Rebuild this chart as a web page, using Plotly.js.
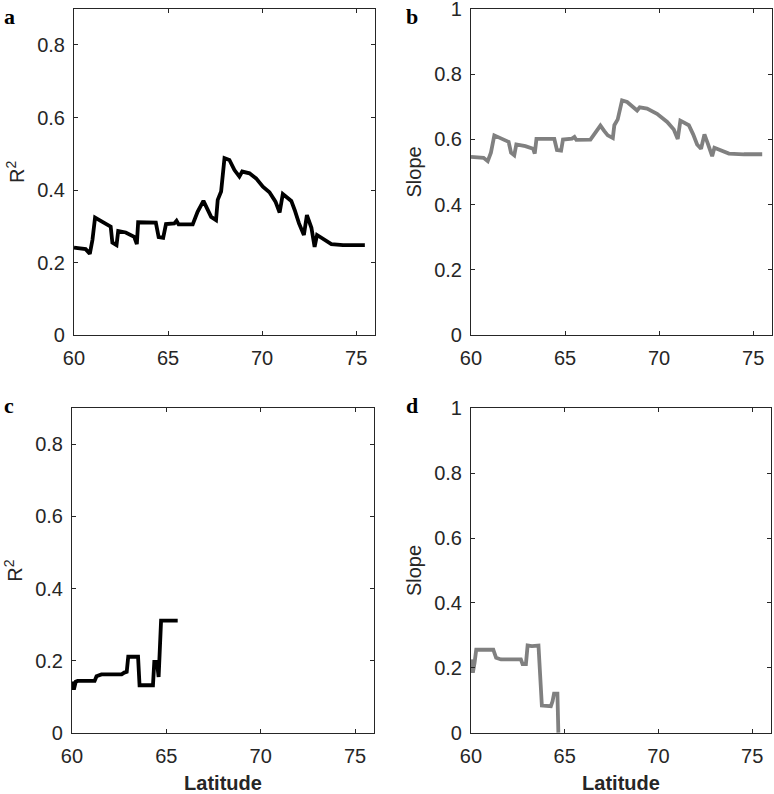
<!DOCTYPE html>
<html>
<head>
<meta charset="utf-8">
<script src="https://cdn.plot.ly/plotly-3.0.1.min.js"></script>
<style>
  body { margin: 0; background: #fff; }
  #chart { width: 774px; height: 794px; }
</style>
</head>
<body>
<div id="chart"></div>
<script>
// panel a: R2 vs latitude
var latA = [60, 60.62, 60.84, 60.98, 61.12, 61.42, 61.95, 62.04, 62.26, 62.35, 62.75, 63.2, 63.34, 63.41,
  64.35, 64.5, 64.74, 64.89, 65.33, 65.45, 65.56, 66.31, 66.57, 66.88, 67.11, 67.29, 67.55, 67.64, 67.82,
  68.0, 68.26, 68.53, 68.79, 68.94, 69.33, 69.68, 70.04, 70.39, 70.71, 70.93, 71.1, 71.55, 71.73, 71.96,
  72.22, 72.38, 72.62, 72.79, 72.92, 73.24, 73.68, 74.3, 75.46];
var r2A = [0.241, 0.237, 0.224, 0.262, 0.324, 0.314, 0.299, 0.255, 0.248, 0.287, 0.283, 0.271, 0.251, 0.311,
  0.310, 0.270, 0.268, 0.306, 0.308, 0.315, 0.305, 0.305, 0.340, 0.370, 0.345, 0.326, 0.317, 0.373, 0.396,
  0.488, 0.483, 0.455, 0.437, 0.451, 0.446, 0.432, 0.409, 0.394, 0.368, 0.338, 0.389, 0.370, 0.345, 0.308,
  0.276, 0.331, 0.296, 0.243, 0.276, 0.265, 0.251, 0.248, 0.248];

// panel b: slope vs latitude
var latB = [60, 60.67, 60.89, 61.06, 61.24, 61.56, 62.0, 62.13, 62.3, 62.41, 62.89, 63.3, 63.39, 63.48,
  64.43, 64.57, 64.79, 64.89, 65.37, 65.5, 65.6, 66.35, 66.61, 66.88, 67.09, 67.27, 67.54, 67.62, 67.8,
  68.03, 68.3, 68.62, 68.83, 68.97, 69.36, 69.89, 70.43, 70.78, 70.99, 71.13, 71.58, 71.81, 72.02, 72.23,
  72.41, 72.59, 72.82, 72.94, 73.26, 73.71, 74.5, 75.48];
var slopeB = [0.546, 0.543, 0.533, 0.559, 0.612, 0.604, 0.592, 0.559, 0.551, 0.584, 0.579, 0.571, 0.556, 0.601,
  0.601, 0.567, 0.565, 0.599, 0.602, 0.607, 0.598, 0.599, 0.620, 0.642, 0.625, 0.612, 0.604, 0.643, 0.661,
  0.719, 0.714, 0.698, 0.688, 0.698, 0.694, 0.678, 0.653, 0.630, 0.601, 0.657, 0.643, 0.615, 0.584, 0.571,
  0.615, 0.587, 0.548, 0.574, 0.566, 0.556, 0.554, 0.554];

// panel c: R2 vs latitude
var latC = [60.0, 60.1, 60.2, 60.3, 61.2, 61.3, 61.56, 62.63, 62.77, 62.9, 62.98, 63.5, 63.58, 64.29, 64.36,
  64.5, 64.59, 64.72, 65.6];
var r2C = [0.142, 0.120, 0.142, 0.144, 0.144, 0.157, 0.162, 0.162, 0.167, 0.169, 0.211, 0.211, 0.132, 0.132, 0.197,
  0.197, 0.155, 0.311, 0.311];

// panel d: slope vs latitude
var latD = [60.0, 60.1, 60.19, 60.28, 61.19, 61.34, 61.6, 62.66, 62.75, 62.93, 63.02, 63.25, 63.6, 63.71, 63.78,
  64.26, 64.35, 64.43, 64.61, 64.66];
var slopeD = [0.226, 0.185, 0.215, 0.256, 0.256, 0.231, 0.226, 0.226, 0.212, 0.212, 0.269, 0.267, 0.269, 0.174, 0.084,
  0.082, 0.097, 0.121, 0.121, 0.0];

var xTicks = [60, 65, 70, 75];
var r2Ticks = [0, 0.2, 0.4, 0.6, 0.8];
var slopeTicks = [0, 0.2, 0.4, 0.6, 0.8, 1];

var axisColor = "#262626";
var tickFont = { family: "Liberation Sans, Arial, sans-serif", size: 20, color: axisColor };

function xax(domain, anchor, withTitle) {
  var ax = {
    domain: domain,
    anchor: anchor,
    range: [60, 76],
    tickvals: xTicks,
    ticktext: xTicks.map(String),
    showline: true,
    mirror: "ticks",
    linecolor: axisColor,
    linewidth: 1,
    ticks: "inside",
    ticklen: 4,
    tickcolor: axisColor,
    showgrid: false,
    zeroline: false,
    tickfont: tickFont,
    ticklabelstandoff: 5,
    ticklabeloverflow: "allow",
  };
  if (withTitle) {
    ax.title = {
      text: "<b>Latitude</b>",
      font: { family: "Liberation Sans, Arial, sans-serif", size: 20, color: axisColor },
      standoff: 10,
    };
  }
  return ax;
}

function yax(domain, anchor, range, ticks, title) {
  return {
    domain: domain,
    anchor: anchor,
    range: range,
    tickvals: ticks,
    ticktext: ticks.map(String),
    showline: true,
    mirror: "ticks",
    linecolor: axisColor,
    linewidth: 1,
    ticks: "inside",
    ticklen: 4,
    tickcolor: axisColor,
    showgrid: false,
    zeroline: false,
    tickfont: tickFont,
    ticklabelstandoff: 4,
    ticklabeloverflow: "allow",
    title: {
      text: title,
      font: { family: "Liberation Sans, Arial, sans-serif", size: 20, color: axisColor },
    },
  };
}

var data = [
  { x: latA, y: r2A, xaxis: "x", yaxis: "y", type: "scatter", mode: "lines",
    line: { color: "#000000", width: 3.8 } },
  { x: latB, y: slopeB, xaxis: "x2", yaxis: "y2", type: "scatter", mode: "lines",
    line: { color: "#808080", width: 3.8 } },
  { x: latC, y: r2C, xaxis: "x3", yaxis: "y3", type: "scatter", mode: "lines",
    line: { color: "#000000", width: 3.8 } },
  { x: latD, y: slopeD, xaxis: "x4", yaxis: "y4", type: "scatter", mode: "lines",
    line: { color: "#808080", width: 3.8 } },
];

var topDom = [0.578, 0.989];
var botDom = [0.077, 0.486];

var letterFont = { family: "Liberation Serif, Times New Roman, serif", size: 22, color: "#000" };
function letter(txt, x, y) {
  return { text: "<b>" + txt + "</b>", xref: "paper", yref: "paper", x: x, y: y,
    xanchor: "left", yanchor: "top", showarrow: false, font: letterFont };
}

var layout = {
  width: 774,
  height: 794,
  margin: { l: 0, r: 0, t: 0, b: 0 },
  paper_bgcolor: "#fff",
  plot_bgcolor: "#fff",
  showlegend: false,
  xaxis: xax([0.0956, 0.4845], "y", false),
  yaxis: yax(topDom, "x", [0, 0.9], r2Ticks, "R<sup>2</sup>"),
  xaxis2: xax([0.6085, 0.9974], "y2", false),
  yaxis2: yax(topDom, "x2", [0, 1], slopeTicks, "Slope"),
  xaxis3: xax([0.093, 0.4832], "y3", true),
  yaxis3: yax(botDom, "x3", [0, 0.9], r2Ticks, "R<sup>2</sup>"),
  xaxis4: xax([0.6085, 0.9961], "y4", true),
  yaxis4: yax(botDom, "x4", [0, 1], slopeTicks, "Slope"),
  annotations: [
    letter("a", 0.003, 0.998),
    letter("b", 0.522, 0.998),
    letter("c", 0.003, 0.508),
    letter("d", 0.522, 0.508),
  ],
};

Plotly.newPlot("chart", data, layout, { displayModeBar: false });
</script>
</body>
</html>
